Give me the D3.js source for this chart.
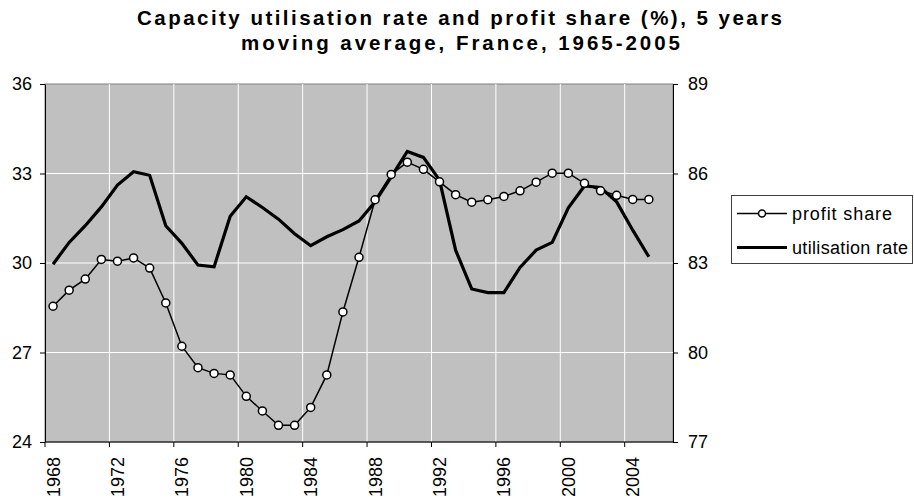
<!DOCTYPE html>
<html>
<head>
<meta charset="utf-8">
<script src="https://cdn.jsdelivr.net/npm/d3@7"></script>
<style>
	body { margin: 0; background: #fff; }
	svg text { font-family: "Liberation Sans", Arial, sans-serif; fill: #000; }
</style>
</head>
<body>
<div id="chart"></div>
<script>

// data
var years = [1968, 1969, 1970, 1971, 1972, 1973, 1974, 1975, 1976, 1977,
	1978, 1979, 1980, 1981, 1982, 1983, 1984, 1985, 1986, 1987,
	1988, 1989, 1990, 1991, 1992, 1993, 1994, 1995, 1996, 1997,
	1998, 1999, 2000, 2001, 2002, 2003, 2004, 2005, 2006];

var profit_share = [28.55, 29.09, 29.46, 30.12, 30.06, 30.17, 29.83, 28.66, 27.21, 26.49,
	26.30, 26.25, 25.53, 25.04, 24.56, 24.56, 25.16, 26.25, 28.36, 30.19,
	32.12, 32.97, 33.38, 33.14, 32.72, 32.29, 32.04, 32.12, 32.23, 32.42,
	32.71, 33.01, 33.01, 32.67, 32.42, 32.27, 32.13, 32.13];

var utilisation = [82.96, 83.69, 84.25, 84.88, 85.61, 86.06, 85.94, 84.25, 83.66, 82.93,
	82.87, 84.57, 85.22, 84.86, 84.47, 83.98, 83.58, 83.88, 84.12, 84.41,
	85.05, 85.89, 86.74, 86.54, 85.78, 83.43, 82.13, 82.01, 82.01, 82.85,
	83.43, 83.69, 84.85, 85.58, 85.53, 85.05, 84.10, 83.21];

var left_ticks = [24, 27, 30, 33, 36];
var right_ticks = [77, 80, 83, 86, 89];
var year_ticks = [1968, 1972, 1976, 1980, 1984, 1988, 1992, 1996, 2000, 2004];

var title_lines = ["Capacity utilisation rate and profit share (%), 5 years",
	"moving average, France, 1965-2005"];
var legend_names = ["profit share", "utilisation rate"];


// global variables
var svg_w = 914;
var svg_h = 502;
var plot = {left: 45, right: 673, top: 84, bottom: 442};

var svg = d3.select("#chart")
	.append("svg")
	.attr("width", svg_w)
	.attr("height", svg_h);

// spread letters so a text line takes the width it has in the picture
function fit_width(sel, widths) {
	sel.each(function(d, i) {
		var n = d.length;
		var natural = this.getComputedTextLength();
		var extra = (widths[i] - natural) / (n - 1);
		d3.select(this).style("letter-spacing", extra + "px");
	});
}


// scales
var x = d3.scaleBand()
	.domain(years)
	.range([plot.left, plot.right])
	.padding(0);
var bw = x.bandwidth();

function cx(i) {
	return x(years[i]) + bw / 2;
}

var y_left = d3.scaleLinear()
	.domain([24, 36])
	.range([plot.bottom, plot.top]);

var y_right = d3.scaleLinear()
	.domain([77, 89])
	.range([plot.bottom, plot.top]);


// plot background + grid
svg.append("rect")
	.attr("x", plot.left)
	.attr("y", plot.top)
	.attr("width", plot.right - plot.left)
	.attr("height", plot.bottom - plot.top)
	.attr("fill", "#c0c0c0")
	.attr("stroke", "#808080")
	.attr("stroke-width", 1);

svg.append("g")
	.selectAll("line")
	.data(left_ticks.slice(1, -1))
	.enter()
	.append("line")
	.attr("x1", plot.left)
	.attr("x2", plot.right)
	.attr("y1", function(d) { return y_left(d); })
	.attr("y2", function(d) { return y_left(d); })
	.attr("stroke", "#fff")
	.attr("stroke-width", 1);

svg.append("g")
	.selectAll("line")
	.data(year_ticks.slice(1))
	.enter()
	.append("line")
	.attr("x1", function(d) { return x(d); })
	.attr("x2", function(d) { return x(d); })
	.attr("y1", plot.top)
	.attr("y2", plot.bottom)
	.attr("stroke", "#fff")
	.attr("stroke-width", 1);


// axes
var left_axis = svg.append("g")
	.attr("transform", "translate(" + plot.left + ",0)")
	.call(d3.axisLeft(y_left).tickValues(left_ticks).tickSize(5).tickPadding(8).tickSizeOuter(0));

var right_axis = svg.append("g")
	.attr("transform", "translate(" + plot.right + ",0)")
	.call(d3.axisRight(y_right).tickValues(right_ticks).tickSize(5).tickPadding(10).tickSizeOuter(0));

var bottom_axis = svg.append("g")
	.attr("transform", "translate(0," + plot.bottom + ")")
	.call(d3.axisBottom(x).tickValues(year_ticks).tickSize(5).tickSizeOuter(0).offset(0));

// band axis puts ticks in the middle; move tick marks to the band edge
bottom_axis.selectAll(".tick line")
	.attr("x1", -bw / 2)
	.attr("x2", -bw / 2);

bottom_axis.selectAll(".tick text")
	.attr("text-anchor", "end")
	.attr("dy", null)
	.attr("y", 0)
	.attr("transform", "translate(6.5,15) rotate(-90)");

[left_axis, right_axis, bottom_axis].forEach(function(a) {
	a.selectAll("text").style("font-size", "18px");
	a.selectAll("line, path").attr("stroke", "#000");
	a.attr("font-family", null);
});


// lines
var line_util = d3.line()
	.x(function(d, i) { return cx(i); })
	.y(function(d) { return y_right(d); });

var line_profit = d3.line()
	.x(function(d, i) { return cx(i); })
	.y(function(d) { return y_left(d); });

svg.append("path")
	.datum(profit_share)
	.attr("d", line_profit)
	.attr("fill", "none")
	.attr("stroke", "#000")
	.attr("stroke-width", 1.5);

svg.append("path")
	.datum(utilisation)
	.attr("d", line_util)
	.attr("fill", "none")
	.attr("stroke", "#000")
	.attr("stroke-width", 3.2)
	.attr("stroke-linejoin", "miter");

svg.append("g")
	.selectAll("circle")
	.data(profit_share)
	.enter()
	.append("circle")
	.attr("cx", function(d, i) { return cx(i); })
	.attr("cy", function(d) { return y_left(d); })
	.attr("r", 4)
	.attr("fill", "#fff")
	.attr("stroke", "#000")
	.attr("stroke-width", 1.5);


// title
svg.append("g")
	.selectAll("text")
	.data(title_lines)
	.enter()
	.append("text")
	.attr("x", function(d, i) { return i == 0 ? 137 : 241; })
	.attr("y", function(d, i) { return 25 + i * 25; })
	.style("font-size", "20.5px")
	.style("font-weight", "bold")
	.text(function(d) { return d; })
	.call(fit_width, [645, 439]);


// legend
var legend = svg.append("g");

legend.append("rect")
	.attr("x", 731.5)
	.attr("y", 195.5)
	.attr("width", 181)
	.attr("height", 68)
	.attr("fill", "#fff")
	.attr("stroke", "#404040")
	.attr("stroke-width", 1);

var rows = legend.selectAll("g.row")
	.data(legend_names)
	.enter()
	.append("g")
	.attr("class", "row")
	.attr("transform", function(d, i) { return "translate(0," + (213.5 + i * 34) + ")"; });

rows.append("line")
	.attr("x1", 737)
	.attr("x2", 787)
	.attr("stroke", "#000")
	.attr("stroke-width", function(d, i) { return i == 0 ? 1.5 : 3.2; });

rows.filter(function(d, i) { return i == 0; })
	.append("circle")
	.attr("cx", 762)
	.attr("r", 3.5)
	.attr("fill", "#fff")
	.attr("stroke", "#000")
	.attr("stroke-width", 1.5);

rows.append("text")
	.attr("x", 792)
	.attr("dy", "0.35em")
	.style("font-size", "18px")
	.text(function(d) { return d; })
	.call(fit_width, [100, 116]);

</script>
</body>
</html>
